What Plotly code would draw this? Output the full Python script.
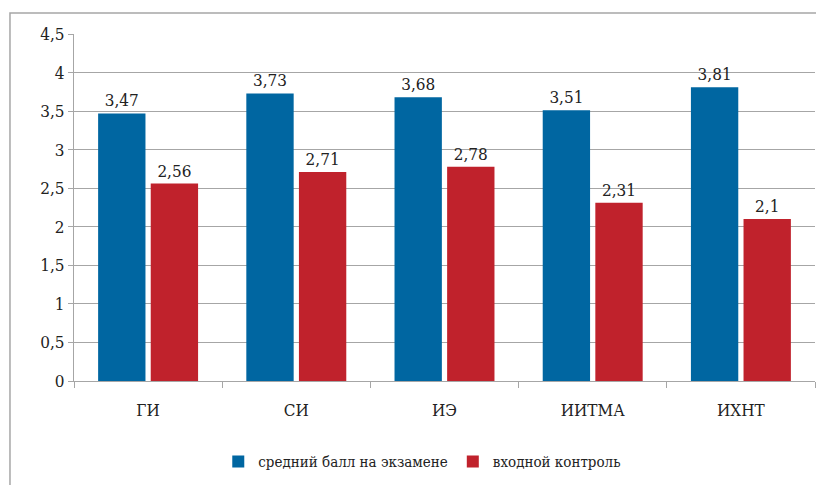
import plotly.graph_objects as go

# institutes
categories = ["ГИ", "СИ", "ИЭ", "ИИТМА", "ИХНТ"]

# average exam score vs entrance test
exam_scores = [3.47, 3.73, 3.68, 3.51, 3.81]
entry_scores = [2.56, 2.71, 2.78, 2.31, 2.1]

series_names = ["средний балл на экзамене", "входной контроль"]
y_ticks = [0, 0.5, 1, 1.5, 2, 2.5, 3, 3.5, 4, 4.5]

colors = {"exam": "#0066a1", "entry": "#c0222c"}
font_family = "DejaVu Serif Condensed"


def fmt(v):
    return str(v).replace(".", ",")


fig = go.Figure()

fig.add_trace(go.Bar(
    x=categories, y=exam_scores, name=series_names[0],
    marker=dict(color=colors["exam"], line=dict(width=0)),
    text=[fmt(v) for v in exam_scores], textposition="outside",
    textfont=dict(family=font_family, size=17, color="#222"), cliponaxis=False,
))
fig.add_trace(go.Bar(
    x=categories, y=entry_scores, name=series_names[1],
    marker=dict(color=colors["entry"], line=dict(width=0)),
    text=[fmt(v) for v in entry_scores], textposition="outside",
    textfont=dict(family=font_family, size=17, color="#222"), cliponaxis=False,
))

# page body has an 8px default margin, so offsets are shifted by it
fig.update_layout(
    width=824, height=485,
    margin=dict(l=66, r=17, t=26, b=112, autoexpand=False),
    paper_bgcolor="white", plot_bgcolor="white",
    font=dict(family=font_family, size=17, color="#222"),
    separators=", ",
    barmode="group", bargap=0.29, bargroupgap=0.1,
    showlegend=True,
    legend=dict(orientation="h", x=0.47, xanchor="center", y=-0.233, yanchor="middle",
                font=dict(family=font_family, size=15), itemwidth=30, tracegroupgap=0,
                bgcolor="rgba(0,0,0,0)"),
    shapes=[dict(type="rect", xref="paper", yref="paper",
                 x0=-0.0864, x1=1.1, y0=-0.6, y1=1.0605,
                 line=dict(color="#a6a6a6", width=1.5), layer="below")],
)

fig.update_yaxes(
    range=[0, 4.5], tickvals=y_ticks,
    showgrid=True, gridcolor="#a6a6a6", gridwidth=1,
    showline=True, linecolor="#a6a6a6", linewidth=1,
    ticks="outside", ticklen=5, tickcolor="#a6a6a6",
    zeroline=False, tickfont=dict(family=font_family, size=17),
)
fig.update_xaxes(
    showline=True, linecolor="#a6a6a6", linewidth=1,
    ticks="outside", tickson="boundaries", ticklen=6, tickcolor="#a6a6a6",
    tickfont=dict(family=font_family, size=17), ticklabelstandoff=14,
)

fig.write_html("out.html")
